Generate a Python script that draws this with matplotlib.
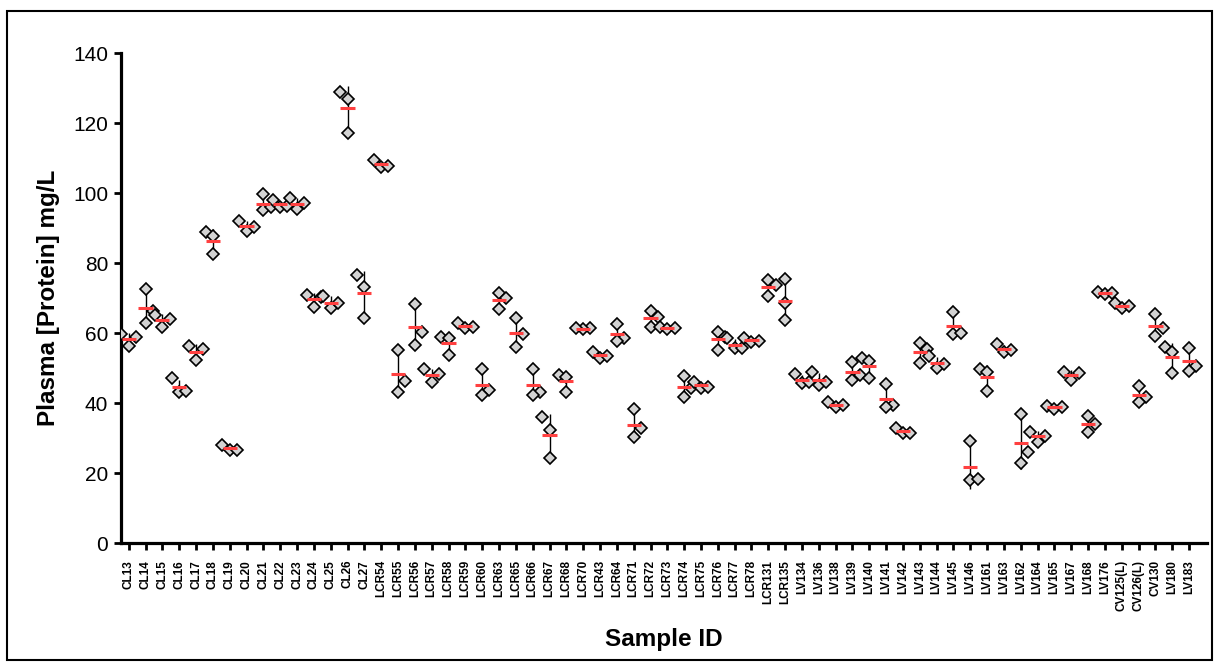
import numpy as np
import matplotlib
matplotlib.use("Agg")
import matplotlib.pyplot as plt
from matplotlib.patches import Rectangle

plt.rcParams['font.family'] = ['Liberation Sans', 'DejaVu Sans']

samples = ['CL13', 'CL14', 'CL15', 'CL16', 'CL17', 'CL18', 'CL19', 'CL20', 'CL21',
           'CL22', 'CL23', 'CL24', 'CL25', 'CL26', 'CL27', 'LCR54', 'LCR55', 'LCR56',
           'LCR57', 'LCR58', 'LCR59', 'LCR60', 'LCR63', 'LCR65', 'LCR66', 'LCR67',
           'LCR68', 'LCR70', 'LCR43', 'LCR64', 'LCR71', 'LCR72', 'LCR73', 'LCR74',
           'LCR75', 'LCR76', 'LCR77', 'LCR78', 'LCR131', 'LCR135', 'LV134', 'LV136',
           'LV138', 'LV139', 'LV140', 'LV141', 'LV142', 'LV143', 'LV144', 'LV145',
           'LV146', 'LV161', 'LV163', 'LV162', 'LV164', 'LV165', 'LV167', 'LV168',
           'LV176', 'CV125(L)', 'CV126(L)', 'CV130', 'LV180', 'LV183']

# three replicates per sample, mg/L
rep_a = [59.7, 72.6, 65.2, 47.1, 56.4, 88.9, 28.1, 92.1, 99.7,
         98.1, 98.6, 71.0, 70.7, 129.0, 76.7, 109.5, 55.2, 68.3,
         49.7, 59.0, 63.0, 49.8, 71.4, 64.3, 49.8, 36.0,
         48.1, 61.4, 54.8, 62.6, 38.3, 66.5, 61.9, 47.8,
         46.0, 60.5, 58.6, 58.8, 75.2, 75.4, 48.3, 49.0,
         40.4, 51.7, 53.0, 45.4, 33.0, 57.1, 53.5, 66.2,
         29.3, 49.8, 56.9, 36.9, 31.9, 39.3, 49.0, 36.3,
         71.9, 68.6, 44.9, 65.5, 56.2, 55.9]
rep_b = [56.4, 63.0, 61.8, 43.1, 52.3, 87.7, 26.7, 89.3, 95.1,
         96.2, 95.4, 67.6, 67.1, 127.0, 73.1, 107.6, 46.5, 60.3,
         46.2, 58.8, 61.6, 43.8, 70.0, 59.8, 43.1, 32.4,
         47.6, 61.2, 53.0, 58.6, 32.9, 64.8, 61.2, 44.3,
         44.5, 59.0, 55.7, 57.6, 73.8, 68.8, 45.7, 45.2,
         38.9, 48.1, 52.1, 39.5, 31.4, 55.5, 50.0, 59.7,
         18.1, 49.0, 54.6, 26.2, 29.0, 38.4, 46.7, 34.0,
         71.1, 67.3, 41.9, 61.6, 54.6, 50.8]
rep_c = [59.0, 66.5, 64.0, 43.6, 55.5, 82.7, 26.7, 90.3, 96.0,
         96.4, 97.1, 70.5, 68.6, 117.1, 64.5, 107.9, 43.3, 56.7,
         48.3, 53.8, 61.9, 42.4, 67.0, 56.2, 42.4, 24.3,
         43.1, 61.4, 53.5, 57.9, 30.5, 61.8, 61.4, 41.9,
         44.8, 55.2, 55.9, 57.8, 70.7, 63.8, 46.0, 46.2,
         39.4, 46.7, 47.3, 39.0, 31.6, 51.6, 51.1, 60.0,
         18.3, 43.5, 55.2, 22.9, 30.8, 39.0, 48.8, 31.9,
         71.4, 67.8, 40.5, 59.3, 48.6, 49.2]

yticks = [0, 20, 40, 60, 80, 100, 120, 140]

data = np.array([rep_a, rep_b, rep_c]).T
means = data.mean(axis=1)
sds = data.std(axis=1, ddof=1)


def spread(vals, step=0.43, thr=4.3):
    # simple scatter layout: centre if free, otherwise alternate right/left
    order = np.argsort(vals, kind='stable')
    offs = np.zeros(len(vals))
    centre = []
    for k, idx in enumerate(order):
        v = vals[idx]
        if all(abs(v - c) >= thr for c in centre):
            centre.append(v)
        else:
            offs[idx] = step if k % 2 == 1 else -step
    return offs


fig = plt.figure(figsize=(12.2, 6.7), dpi=100)
fig.patch.set_facecolor('white')
fig.add_artist(Rectangle((0.0057, 0.015), 0.988, 0.969, transform=fig.transFigure,
                         fill=False, ec='black', lw=1.5))
ax = fig.add_axes([0.0989, 0.1891, 0.8904, 0.7313])

x = np.arange(len(samples))
for i in range(len(samples)):
    vals = data[i]
    xs = x[i] + spread(vals)
    ax.vlines(x[i], means[i] - sds[i], means[i] + sds[i], color='black', lw=1.0, zorder=2)
    ax.plot(xs, vals, ls='none', marker='D', ms=6.2, mfc='#D3D3D3', mec='black',
            mew=1.2, zorder=3)
    ax.hlines(means[i], x[i] - 0.42, x[i] + 0.42, color='#FF4040', lw=2.2, zorder=4)

ax.set_xlim(-0.48, 64.06)
ax.set_ylim(0, 140)
ax.set_yticks(yticks)
ax.set_xticks(x)
ax.set_xticklabels(samples, rotation=90, fontsize=8.5, fontweight='bold')
ax.tick_params(axis='y', labelsize=15, length=5, width=2, pad=4, direction='out')
ax.tick_params(axis='x', length=5, width=2, pad=7, direction='out')
for s in ['top', 'right']:
    ax.spines[s].set_visible(False)
for s in ['left', 'bottom']:
    ax.spines[s].set_linewidth(2.3)

ax.set_ylabel('Plasma [Protein] mg/L', fontsize=17.5, fontweight='bold')
ax.yaxis.set_label_coords(-0.0559, 0.5)
ax.set_xlabel('Sample ID', fontsize=17.5, fontweight='bold')
ax.xaxis.set_label_coords(0.5, -0.1729)

fig.savefig('out.png', dpi=100)
